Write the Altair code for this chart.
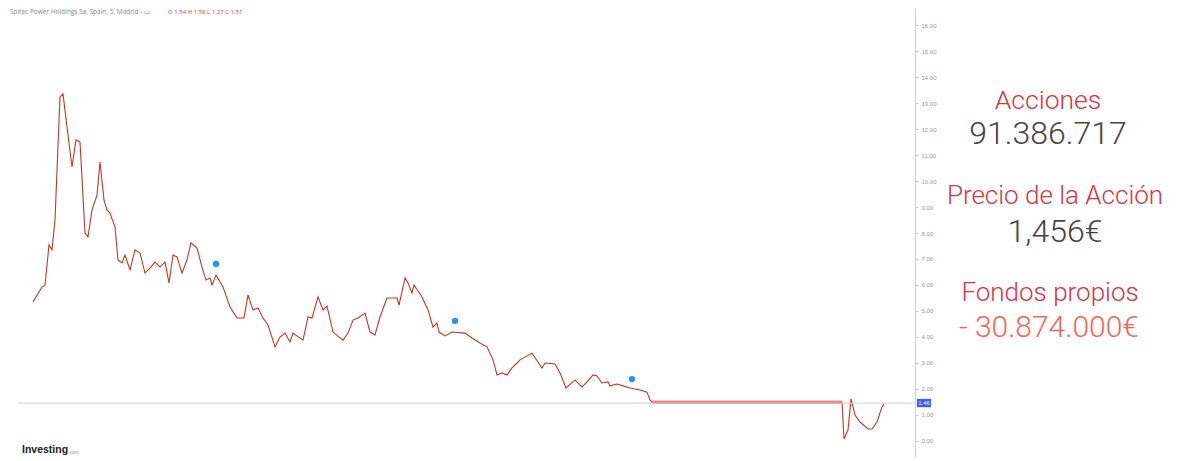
import altair as alt
import pandas as pd

# Sesión (posición temporal relativa) y precio de cierre (€)
sesion = [0, 9, 12, 16, 19, 22, 27, 30, 34, 39, 43, 47, 52, 55, 59, 64, 67, 71, 74, 77,
          82, 85, 89, 92, 97, 102, 107, 112, 117, 122, 127, 132, 136, 140, 144, 149, 154, 158, 164, 169,
          173, 177, 179, 183, 190, 197, 204, 211, 215, 220, 225, 230, 235, 242, 247, 252, 257, 260, 270, 275,
          279, 285, 290, 294, 300, 310, 315, 320, 325, 332, 337, 342, 347, 354, 364, 366, 372, 375, 379, 381,
          389, 395, 400, 404, 406, 412, 419, 432, 439, 447, 454, 460, 464, 469, 474, 479, 484, 487, 499, 509,
          512, 522, 527, 533, 542, 549, 554, 560, 564, 569, 575, 577, 584, 590, 597, 607, 614, 617, 619, 809,
          811, 815, 818, 822, 827, 835, 839, 844, 849, 851]
precio = [5.35, 5.92, 6.00, 7.54, 7.35, 8.50, 13.23, 13.35, 12.08, 10.54, 11.58, 11.50, 8.00, 7.85, 8.88, 9.46, 10.73, 9.27, 8.88, 8.77,
          8.23, 6.96, 6.85, 7.15, 6.58, 7.35, 7.23, 6.46, 6.65, 6.88, 6.69, 6.88, 6.08, 7.15, 7.08, 6.46, 6.96, 7.62, 7.42, 6.69,
          6.19, 6.27, 6.00, 6.38, 5.92, 5.15, 4.73, 4.73, 5.62, 5.04, 5.12, 4.73, 4.46, 3.62, 4.00, 4.15, 3.81, 4.15, 3.88, 4.77,
          4.73, 5.54, 5.04, 5.19, 4.19, 3.88, 4.15, 4.65, 4.73, 4.92, 4.19, 4.08, 4.77, 5.50, 5.50, 5.23, 6.27, 6.08, 5.69, 6.00,
          5.54, 5.04, 4.38, 4.54, 4.19, 4.04, 4.19, 4.15, 3.96, 3.77, 3.62, 3.12, 2.54, 2.62, 2.54, 2.81, 3.00, 3.12, 3.38, 2.81,
          3.00, 2.96, 2.62, 2.04, 2.35, 2.08, 2.27, 2.54, 2.50, 2.23, 2.27, 2.12, 2.19, 2.12, 2.04, 1.96, 1.88, 1.58, 1.50, 1.50,
          0.08, 0.42, 1.62, 1.00, 0.73, 0.46, 0.46, 0.73, 1.31, 1.42]

# Tramo de cotización suspendida
susp_sesion = [619, 809]
susp_precio = [1.50, 1.50]

# Eventos marcados (iconos azules)
evento_sesion = [183, 422, 599]
evento_precio = [6.81, 4.62, 2.38]

precio_actual = 1.456
ticks_y = list(range(0, 17))

etiquetas = ["Acciones", "91.386.717", "Precio de la Acción", "1,456€", "Fondos propios", "- 30.874.000€"]
etiq_color = ["#d9343f", "#444444", "#d9343f", "#444444", "#d9343f", "#f2665a"]
etiq_size = [26.5, 32, 26, 32, 26, 30]
etiq_y = [93, 126, 188, 224, 285, 320]
etiq_x = [1040, 1040, 1047, 1047, 1042, 1041]

df = pd.DataFrame({"sesion": sesion, "precio": precio})
df_s = pd.DataFrame({"sesion": susp_sesion, "precio": susp_precio})
df_e = pd.DataFrame({"sesion": evento_sesion, "precio": evento_precio})

W, H = 907, 450
xs = alt.Scale(domain=[-25, 882], nice=False, zero=False)
ys = alt.Scale(domain=[-0.654, 16.654], nice=False, zero=False)

x_enc = alt.X("sesion:Q", scale=xs, axis=None)
y_axis = alt.Axis(orient="right", values=ticks_y, format=".2f", labelFontSize=6,
                  labelColor="#9a9a9a", domainColor="#cfcfcf", tickColor="#cfcfcf",
                  tickSize=3, labelPadding=3, grid=False, title=None)
y_enc = alt.Y("precio:Q", scale=ys, axis=y_axis)

line = alt.Chart(df).mark_line(color="#c0392b", strokeWidth=1.1).encode(x=x_enc, y=y_enc)

price_rule = alt.Chart(pd.DataFrame({"precio": [precio_actual]})).mark_rule(color="#d0d0d0", strokeWidth=1).encode(
    y=y_enc, x=alt.value(10), x2=alt.value(W))

susp = alt.Chart(df_s).mark_line(color="#e88a8e", strokeWidth=3).encode(x=x_enc, y=y_enc)
ev = alt.Chart(df_e).mark_point(filled=True, shape="circle", size=40, color="#2196f3", opacity=1).encode(
    x=x_enc, y=y_enc)

box = alt.Chart(pd.DataFrame({"precio": [1.30], "precio2": [1.62]})).mark_rect(color="#3d5afe", clip=False).encode(
    x=alt.value(W + 2), x2=alt.value(W + 16), y=y_enc, y2="precio2:Q")
box_t = alt.Chart(pd.DataFrame({"precio": [precio_actual], "t": ["1.46"]})).mark_text(
    color="white", fontSize=6, align="center", baseline="middle", clip=False).encode(
    x=alt.value(W + 9), y=y_enc, text="t:N")

title1 = alt.Chart(pd.DataFrame({"t": ["Soltec Power Holdings Sa, Spain, 5, Madrid  -  \u25ad"]})).mark_text(
    align="left", baseline="middle", fontSize=6.5, color="#8a8a8a", font="Open Sans").encode(
    x=alt.value(2), y=alt.value(4), text="t:N")
title2 = alt.Chart(pd.DataFrame({"t": ["O 1.54  H 1.58  L 1.27  C 1.51"]})).mark_text(
    align="left", baseline="middle", fontSize=6, color="#e0393e", font="Open Sans").encode(
    x=alt.value(160), y=alt.value(4), text="t:N")
logo = alt.Chart(pd.DataFrame({"t": ["Investing"]})).mark_text(
    align="left", baseline="middle", fontSize=10.5, fontWeight="bold", color="#222222", font="Liberation Sans").encode(
    x=alt.value(14), y=alt.value(442), text="t:N")
logo2 = alt.Chart(pd.DataFrame({"t": [".com"]})).mark_text(
    align="left", baseline="middle", fontSize=5, color="#999999", font="Liberation Sans").encode(
    x=alt.value(60), y=alt.value(444), text="t:N")

side_layers = []
for t, c, s, yy, xx in zip(etiquetas, etiq_color, etiq_size, etiq_y, etiq_x):
    side_layers.append(
        alt.Chart(pd.DataFrame({"t": [t]})).mark_text(
            align="center", baseline="middle", font="'Roboto Light', Roboto", fontWeight=300, fontSize=s,
            color=c, clip=False
        ).encode(x=alt.value(xx), y=alt.value(yy), text="t:N")
    )

chart = alt.layer(line, price_rule, susp, ev, box, box_t, title1, title2, logo, logo2, *side_layers).properties(
    width=W, height=H, background="white",
    padding={"left": 0, "top": 0, "right": 5, "bottom": 0}).configure_view(
    strokeWidth=0, stroke="transparent").configure_axis(grid=False)

chart.save("out.html", embed_options={"renderer": "svg", "actions": False})
